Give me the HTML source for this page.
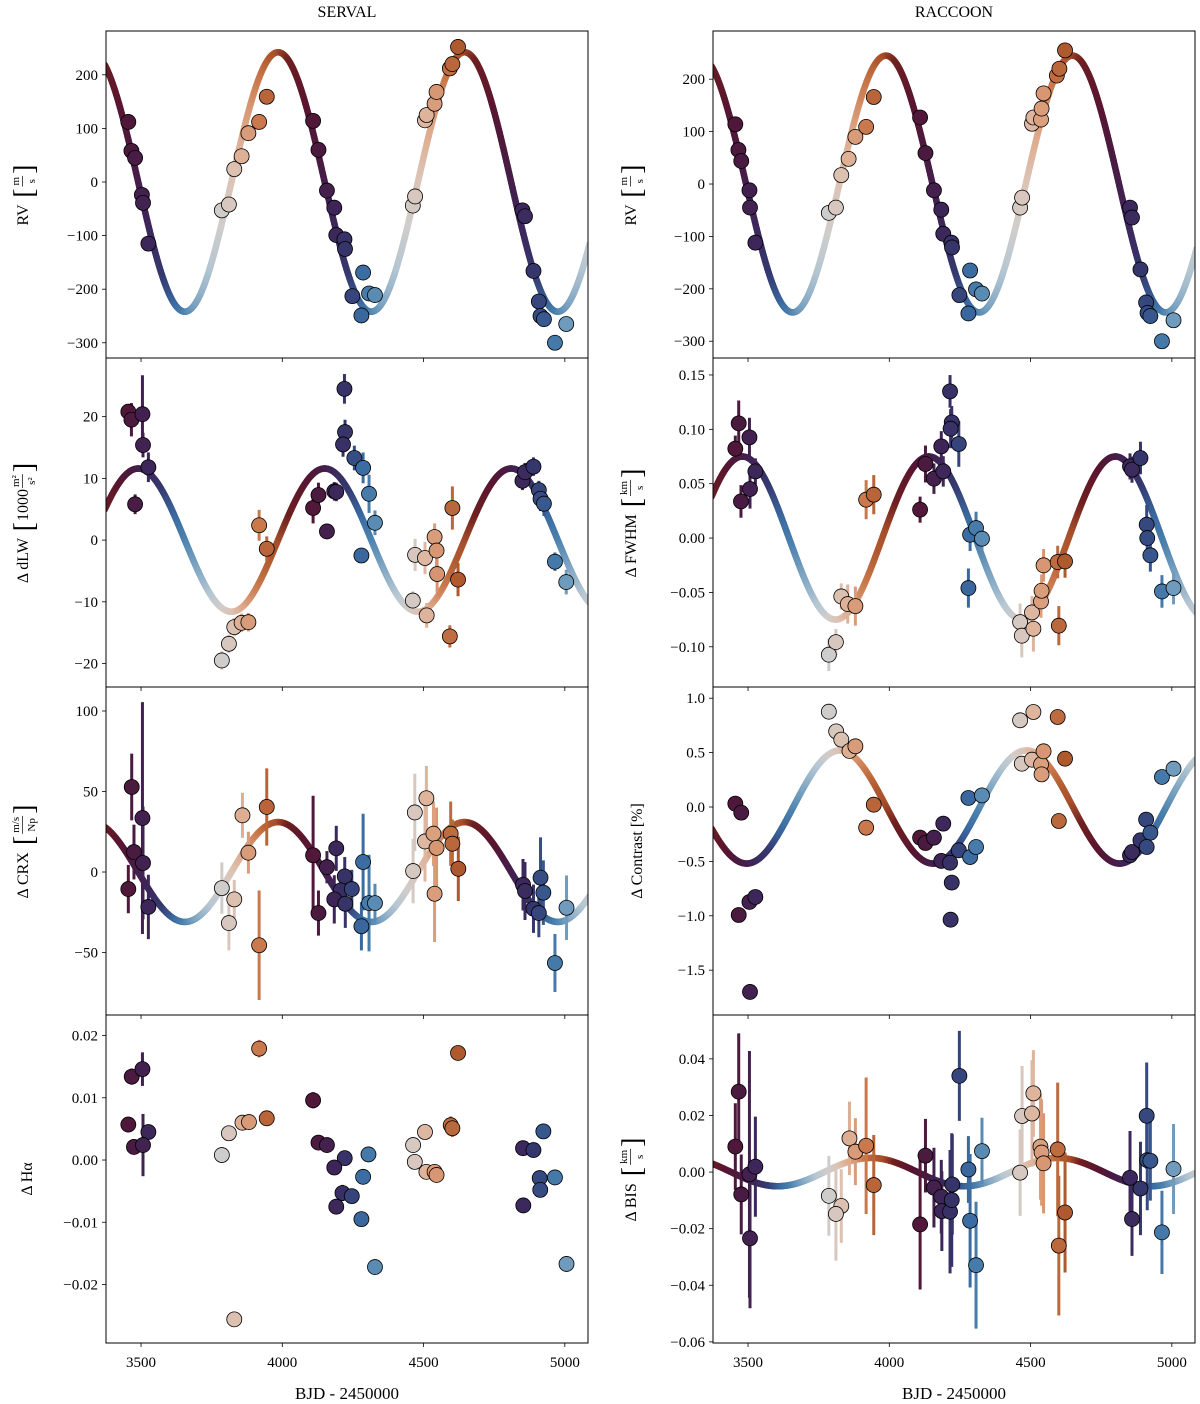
<!DOCTYPE html>
<html><head><meta charset="utf-8"><title>SERVAL vs RACCOON activity indicators</title>
<style>
html,body{margin:0;padding:0;background:#fff;}
svg{display:block;font-family:"Liberation Serif","DejaVu Serif",serif;}
svg text{white-space:pre;}
</style></head>
<body>
<svg id="fig" width="1200" height="1404" viewBox="0 0 1200 1404" xmlns="http://www.w3.org/2000/svg">
<text x="347" y="17" font-size="16" text-anchor="middle">SERVAL</text>
<text x="954" y="17" font-size="16" text-anchor="middle">RACCOON</text>
<text x="347" y="1399" font-size="17" text-anchor="middle">BJD - 2450000</text>
<text x="954" y="1399" font-size="17" text-anchor="middle">BJD - 2450000</text>
</svg>
<script>
// ---------- data ----------
const xTicks = [3500, 4000, 4500, 5000];
const period = 660;
const phaseRef = 3985;

// SERVAL RV
const rvL_t = [3455,3466,3479,3503,3507,3526,3786,3811,3830,3856,3880,3918,3945,4109,4128,4158,4184,4191,4220,4222,4286,4248,4280,4307,4328,4462,4470,4505,4511,4539,4546,4593,4602,4622,4850,4859,4889,4908,4914,4926,4965,5005];
const rvL_v = [112,58,45,-24,-39,-115,-53,-42,24,48,91,112,159,114,60,-16,-48,-99,-107,-125,-169,-213,-249,-208,-211,-44,-27,115,125,146,168,212,220,252,-53,-64,-166,-223,-250,-256,-300,-265];
const rvL_ticks = [200,100,0,-100,-200,-300];
// RACCOON RV
const rvR_t = [3455,3466,3476,3505,3507,3526,3786,3811,3830,3856,3880,3918,3945,4109,4128,4158,4184,4191,4220,4222,4286,4248,4280,4307,4328,4463,4470,4505,4510,4537,4539,4546,4593,4602,4622,4852,4859,4889,4909,4914,4924,4965,5006];
const rvR_v = [114,65,44,-12,-45,-112,-55,-45,17,48,90,109,166,127,59,-12,-49,-95,-112,-121,-165,-212,-247,-201,-209,-45,-26,115,127,123,144,173,207,220,255,-45,-64,-163,-226,-246,-252,-300,-260];
const rvR_ticks = [200,100,0,-100,-200,-300];

// SERVAL dLW
const dlw_t = [3455,3466,3505,3507,3526,3479,3786,3811,3830,3856,3880,3918,3945,4109,4128,4158,4184,4191,4220,4222,4215,4255,4286,4280,4307,4328,4462,4470,4505,4511,4539,4546,4548,4602,4593,4622,4850,4859,4889,4908,4914,4926,4965,5005];
const dlw_v = [20.8,19.5,20.4,15.4,11.8,5.8,-19.5,-16.8,-14.1,-13.4,-13.3,2.4,-1.4,5.2,7.3,1.4,7.9,7.8,24.5,17.5,15.5,13.3,11.7,-2.5,7.5,2.8,-9.8,-2.4,-2.9,-12.2,0.5,-1.7,-5.5,5.2,-15.6,-6.4,9.6,11,11.9,8.1,6.7,5.9,-3.5,-6.8];
const dlw_e = [1,2.7,6.3,2,2.4,1.6,1.5,1.5,1.5,1.5,1.5,2.5,2,2.5,2,1,1.5,1.5,2.4,2,2,2,2.5,1.2,3.1,2,1.5,2.6,2.6,2,2.2,2.5,3,3.5,1.8,2.7,1.5,1.5,1.5,1.5,2,2,1.5,2];
const dlw_ticks = [20,10,0,-10,-20];

// RACCOON FWHM
const fw_t = [3467,3455,3505,3526,3507,3475,3786,3811,3830,3853,3880,3918,3945,4109,4128,4158,4191,4184,4215,4221,4217,4246,4286,4307,4328,4280,4463,4469,4510,4505,4537,4539,4546,4596,4622,4600,4852,4859,4889,4911,4913,4924,4965,5006];
const fw_v = [0.1055,0.0822,0.0926,0.0613,0.0451,0.0337,-0.1073,-0.0957,-0.0537,-0.0607,-0.0626,0.0353,0.0399,0.0261,0.0681,0.0546,0.0613,0.0843,0.1349,0.1064,0.1006,0.0865,0.0031,0.0092,-0.0006,-0.046,-0.0773,-0.0898,-0.0834,-0.0684,-0.0583,-0.0485,-0.0251,-0.0221,-0.0215,-0.0806,0.0659,0.0629,0.0736,0.0123,0.0,-0.0159,-0.0491,-0.046];
const fw_e = [0.021,0.012,0.018,0.012,0.018,0.015,0.015,0.012,0.012,0.018,0.018,0.018,0.018,0.012,0.017,0.014,0.014,0.014,0.015,0.015,0.018,0.021,0.015,0.015,0.012,0.018,0.017,0.02,0.021,0.015,0.015,0.015,0.015,0.015,0.015,0.018,0.012,0.012,0.015,0.018,0.018,0.015,0.015,0.015];
const fw_ticks = [0.15,0.10,0.05,0.00,-0.05,-0.10];

// SERVAL CRX
const crx_t = [3467,3505,3475,3507,3455,3526,3786,3830,3811,3859,3880,3945,3918,4109,4128,4158,4191,4221,4207,4246,4184,4223,4286,4280,4307,4328,4463,4469,4510,4505,4535,4546,4539,4596,4602,4623,4852,4859,4889,4908,4914,4924,4965,5006];
const crx_v = [52.8,33.5,12.4,5.6,-10.6,-21.7,-10,-17,-31.7,35.2,12,40.4,-45.5,10.4,-25.5,3,14.7,-2.7,-11.4,-10.6,-17,-19.7,6.2,-33.7,-19.3,-19.3,0.6,37,45.8,19,23.8,15,-13.5,23.8,17.6,2,-7.9,-11.8,-22.8,-25.5,-3.5,-12.8,-56.5,-22.2];
const crx_e = [20.7,72,17,35,15,20,16,12,17,14,13,24,34,37,14,10,14,12,12,12,15,15,30,15,30,12,20,24,20,25,20,25,30,20,15,20,16,18,15,15,25,20,18,20];
const crx_ticks = [100,50,0,-50];

// RACCOON Contrast
const ct_t = [3455,3476,3467,3505,3526,3507,3786,3812,3830,3859,3880,3945,3918,4109,4128,4158,4191,4184,4215,4221,4217,4246,4286,4307,4280,4328,4463,4510,4469,4505,4537,4546,4539,4596,4622,4600,4852,4859,4889,4909,4924,4911,4965,5006];
const ct_v = [0.031,-0.052,-0.993,-0.873,-0.827,-1.70,0.876,0.695,0.619,0.515,0.558,0.021,-0.19,-0.282,-0.331,-0.282,-0.153,-0.496,-0.512,-0.695,-1.036,-0.398,-0.46,-0.368,0.083,0.107,0.797,0.873,0.398,0.435,0.392,0.512,0.3,0.827,0.444,-0.129,-0.444,-0.414,-0.306,-0.116,-0.236,-0.368,0.276,0.352];
const ct_ticks = [1.0,0.5,0.0,-0.5,-1.0,-1.5];

// SERVAL Halpha
const ha_t = [3467,3505,3455,3526,3475,3507,3786,3811,3859,3882,3945,3918,3830,4109,4128,4158,4221,4184,4213,4246,4191,4305,4286,4280,4328,4463,4469,4505,4510,4539,4546,4596,4602,4622,4852,4889,4924,4911,4965,4913,4853,5006];
const ha_v = [0.0134,0.0146,0.0057,0.0045,0.0021,0.0024,0.0008,0.0043,0.0060,0.0061,0.0067,0.0179,-0.0256,0.0096,0.0028,0.0024,0.0003,-0.0012,-0.0053,-0.0058,-0.0075,0.0009,-0.0027,-0.0095,-0.0172,0.0024,-0.0003,0.0045,-0.0019,-0.0019,-0.0024,0.0056,0.0051,0.0172,0.0019,0.0016,0.0046,-0.0029,-0.0028,-0.0048,-0.0073,-0.0167];
const ha_e = [0.0013,0.0027,0.0008,0.0010,0.0010,0.0050,0.0006,0.0006,0.0006,0.0006,0.0010,0.0014,0.0006,0.0013,0.0006,0.0006,0.0008,0.0008,0.0013,0.0008,0.0006,0.0008,0.0010,0.0006,0.0008,0.0008,0.0008,0.0010,0.0010,0.0012,0.0012,0.0014,0.0014,0.0012,0.0008,0.0008,0.0010,0.0008,0.0008,0.0010,0.0006,0.0008];
const ha_ticks = [0.02,0.01,0.00,-0.01,-0.02];

// RACCOON BIS
const bis_t = [3467,3455,3505,3526,3476,3507,3786,3830,3811,3859,3880,3918,3945,4128,4109,4158,4184,4186,4215,4221,4223,4248,4280,4328,4286,4307,4463,4470,4510,4505,4535,4539,4546,4596,4622,4600,4852,4859,4889,4911,4913,4924,4965,5006];
const bis_v = [0.0284,0.0090,-0.0008,0.0019,-0.0079,-0.0234,-0.0084,-0.0120,-0.0148,0.0119,0.0072,0.0093,-0.0046,0.0058,-0.0185,-0.0055,-0.0087,-0.0138,-0.0140,-0.0099,-0.0044,0.0340,0.0009,0.0074,-0.0172,-0.0329,-0.0002,0.0198,0.0278,0.0207,0.0090,0.0069,0.0031,0.0080,-0.0143,-0.0260,-0.0020,-0.0166,-0.0058,0.0199,0.0042,0.0040,-0.0213,0.0011];
const bis_e = [0.0206,0.0153,0.0436,0.0177,0.0141,0.0247,0.0141,0.0130,0.0165,0.0130,0.0118,0.0241,0.0177,0.0130,0.0230,0.0141,0.0130,0.0141,0.0218,0.0236,0.0177,0.0159,0.0118,0.0118,0.0236,0.0224,0.0153,0.0177,0.0153,0.0188,0.0188,0.0188,0.0177,0.0236,0.0212,0.0247,0.0165,0.0130,0.0165,0.0188,0.0177,0.0141,0.0147,0.0159];
const bis_ticks = [0.04,0.02,0.00,-0.02,-0.04,-0.06];

// model sinusoids (amplitude, time of maximum)
const modelAmp  = [242, 245, 11.6, 0.075, 31, 0.52, 0, 0.005];
const modelPeak = [3985, 3988, 4150, 4140, 3985, 4485, 0, 4595];

// ---------- drawing ----------
const NS = "http://www.w3.org/2000/svg";
const svg = document.getElementById('fig');
function mk(tag, attrs, parent){
  const e = document.createElementNS(NS, tag);
  for (const k in attrs) e.setAttribute(k, attrs[k]);
  (parent||svg).appendChild(e);
  return e;
}
const stops = [
 [0.00,[168,80,44]],[0.06,[110,32,32]],[0.15,[90,21,48]],[0.22,[74,26,64]],
 [0.30,[62,37,88]],[0.38,[52,57,111]],[0.45,[58,106,160]],[0.50,[74,128,173]],
 [0.56,[122,162,192]],[0.64,[181,198,210]],[0.70,[208,205,203]],[0.76,[220,195,181]],
 [0.82,[223,169,138]],[0.90,[201,120,75]],[0.96,[176,90,48]],[1.00,[168,80,44]]];
function colorAt(t){
  let p = ((t - phaseRef) / period) % 1; if (p < 0) p += 1;
  for (let i = 0; i < stops.length - 1; i++){
    const a = stops[i], b = stops[i+1];
    if (p >= a[0] && p <= b[0]){
      const f = (p - a[0]) / (b[0] - a[0]);
      const c = a[1].map((v,j)=>Math.round(v + (b[1][j]-v)*f));
      return 'rgb(' + c.join(',') + ')';
    }
  }
  return 'rgb(168,80,44)';
}
function fmt(v, dec){
  const s = Math.abs(v).toFixed(dec);
  return (v < -1e-12 ? '\u2212' : '') + s;
}
const tMin = 3376, tMax = 5082;
const panels = [
 {name:'rv-serval', x0:106,x1:588,y0:31,y1:358,ymin:-328.4,ymax:281.7,t:rvL_t,v:rvL_v,e:null,ticks:rvL_ticks,dec:0,m:0,
  label:[{t:'RV '},{b:'['},{n:'m',d:'s'},{b:']'}], lx:22},
 {name:'rv-raccoon', x0:713,x1:1195,y0:31,y1:358,ymin:-332,ymax:292,t:rvR_t,v:rvR_v,e:null,ticks:rvR_ticks,dec:0,m:1,
  label:[{t:'RV '},{b:'['},{n:'m',d:'s'},{b:']'}], lx:630},
 {name:'dlw-serval', x0:106,x1:588,y0:358,y1:687,ymin:-23.8,ymax:29.5,t:dlw_t,v:dlw_v,e:dlw_e,ticks:dlw_ticks,dec:0,m:2,
  label:[{t:'\u0394 dLW '},{b:'['},{t:'1000'},{n:'m\u00b2',d:'s\u00b2'},{b:']'}], lx:22},
 {name:'fwhm-raccoon', x0:713,x1:1195,y0:358,y1:687,ymin:-0.137,ymax:0.1656,t:fw_t,v:fw_v,e:fw_e,ticks:fw_ticks,dec:2,m:3,
  label:[{t:'\u0394 FWHM '},{b:'['},{n:'km',d:'s'},{b:']'}], lx:630},
 {name:'crx-serval', x0:106,x1:588,y0:687,y1:1015,ymin:-88.8,ymax:114.9,t:crx_t,v:crx_v,e:crx_e,ticks:crx_ticks,dec:0,m:4,
  label:[{t:'\u0394 CRX '},{b:'['},{n:'m/s',d:'Np'},{b:']'}], lx:22},
 {name:'contrast-raccoon', x0:713,x1:1195,y0:687,y1:1015,ymin:-1.912,ymax:1.103,t:ct_t,v:ct_v,e:null,ticks:ct_ticks,dec:1,m:5,
  label:[{t:'\u0394 Contrast [%]'}], lx:636},
 {name:'halpha-serval', x0:106,x1:588,y0:1015,y1:1343,ymin:-0.0294,ymax:0.0233,t:ha_t,v:ha_v,e:ha_e,ticks:ha_ticks,dec:2,m:6,
  label:[{t:'\u0394 H\u03b1'}], lx:26},
 {name:'bis-raccoon', x0:713,x1:1195,y0:1015,y1:1343,ymin:-0.0604,ymax:0.0555,t:bis_t,v:bis_v,e:bis_e,ticks:bis_ticks,dec:2,m:7,
  label:[{t:'\u0394 BIS '},{b:'['},{n:'km',d:'s'},{b:']'}], lx:630}
];

panels.forEach((P, pi) => {
  const X = t => P.x0 + (t - tMin) / (tMax - tMin) * (P.x1 - P.x0);
  const Y = v => P.y1 - (v - P.ymin) / (P.ymax - P.ymin) * (P.y1 - P.y0);
  const g = mk('g', {});
  
  
  const cp = mk('clipPath', {id:'clip'+pi}, g);
  mk('rect', {x:P.x0, y:P.y0, width:P.x1-P.x0, height:P.y1-P.y0}, cp);
  const plot = mk('g', {'clip-path':'url(#clip'+pi+')'}, g);

  const amp = modelAmp[P.m], pk = modelPeak[P.m];
  if (amp > 0){
    const cg = mk('g', {}, plot);
    
    
    const step = 3;
    for (let t = tMin - 5; t < tMax + 5; t += step){
      const f = tt => amp * Math.cos(2*Math.PI*(tt - pk)/period);
      mk('line', {x1:X(t), y1:Y(f(t)), x2:X(t+step+0.8), y2:Y(f(t+step+0.8)),
        stroke:colorAt(t+step/2), 'stroke-width':6.5, 'stroke-linecap':'round'}, cg);
    }
  }
  if (P.e){
    P.t.forEach((t, i) => {
      const eb = mk('line', {x1:X(t), x2:X(t), y1:Y(P.v[i]+P.e[i]), y2:Y(P.v[i]-P.e[i]),
        stroke:colorAt(t), 'stroke-width':3}, plot);
      
      
    });
  }
  P.t.forEach((t, i) => {
    const c = mk('circle', {cx:X(t), cy:Y(P.v[i]), r:7.5, fill:colorAt(t), stroke:'#000', 'stroke-width':0.8}, plot);
    
    
  });

  const fr = mk('rect', {x:P.x0, y:P.y0, width:P.x1-P.x0, height:P.y1-P.y0, fill:'none', stroke:'#000', 'stroke-width':1}, g);
  
  

  P.ticks.forEach(v => {
    const y = Y(v);
    mk('line', {x1:P.x0-4, x2:P.x0, y1:y, y2:y, stroke:'#000', 'stroke-width':0.8}, g);
    const tl = mk('text', {x:P.x0-8, y:y+5, 'font-size':15, 'text-anchor':'end'}, g);
    
    
    tl.textContent = fmt(v, P.dec);
  });
  xTicks.forEach(t => {
    const x = X(t);
    mk('line', {x1:x, x2:x, y1:P.y1, y2:P.y1+4, stroke:'#000', 'stroke-width':0.8}, g);
    if (P.y1 > 1300){
      const xl = mk('text', {x:x, y:P.y1+24, 'font-size':15, 'text-anchor':'middle'}, g);
      
      
      xl.textContent = String(t);
    }
  });

  const cy = (P.y0 + P.y1) / 2;
  const lg = mk('g', {}, g);
  
  
  const inner = mk('g', {}, lg);
  let cx = 0;
  P.label.forEach(part => {
    if (part.t !== undefined){
      const e = mk('text', {x:cx, y:0, 'font-size':16}, inner);
      e.textContent = part.t;
      cx += e.getComputedTextLength();
      if (part.t.endsWith(' ')) cx += 3;
    } else if (part.b !== undefined){
      const e = mk('text', {x:cx, y:5, 'font-size':28, 'font-weight':'100'}, inner);
      e.textContent = part.b;
      cx += e.getComputedTextLength() + 1;
    } else {
      const n = mk('text', {x:0, y:-9, 'font-size':11, 'text-anchor':'middle'}, inner);
      n.textContent = part.n;
      const d = mk('text', {x:0, y:7, 'font-size':11, 'text-anchor':'middle'}, inner);
      d.textContent = part.d;
      const w = Math.max(n.getComputedTextLength(), d.getComputedTextLength()) + 2;
      n.setAttribute('x', cx + 1 + w/2); d.setAttribute('x', cx + 1 + w/2);
      mk('line', {x1:cx+1, x2:cx+1+w, y1:-5.5, y2:-5.5, stroke:'#000', 'stroke-width':0.7}, inner);
      cx += w + 3;
    }
  });
  inner.setAttribute('transform', 'translate(' + (-cx/2) + ',0)');
  lg.setAttribute('transform', 'translate(' + (P.lx + 6) + ',' + cy + ') rotate(-90)');
});
</script>
</body></html>
